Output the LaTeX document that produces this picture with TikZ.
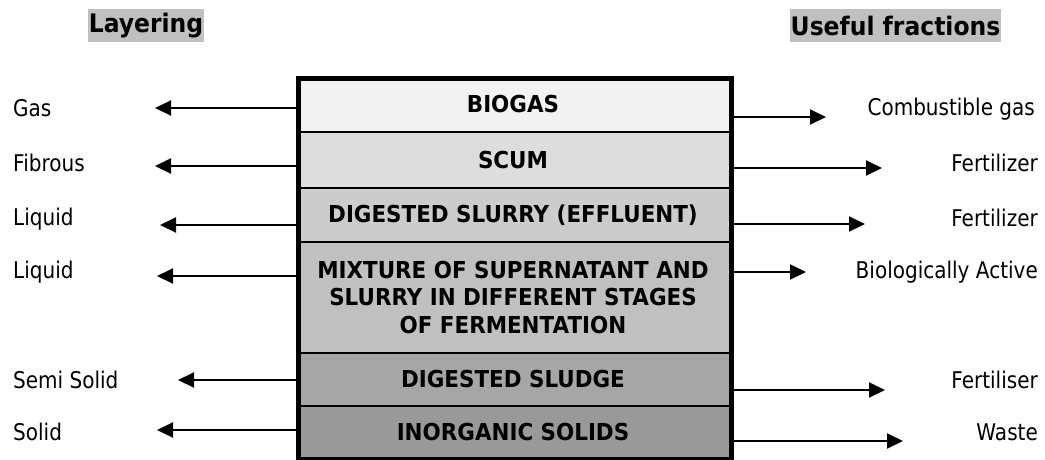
\documentclass[tikz,border=0pt]{standalone}
\usepackage{fontspec}
\setmainfont{DejaVu Sans}
\newfontfamily\regfont{DejaVu Sans}[FakeStretch=0.87]
\newfontfamily\boldfont{DejaVu Sans}[FakeStretch=0.92]
\usetikzlibrary{arrows.meta}
\definecolor{cBiogas}{HTML}{F2F2F2}
\definecolor{cScum}{HTML}{DDDDDD}
\definecolor{cSlurry}{HTML}{CCCCCC}
\definecolor{cMix}{HTML}{C0C0C0}
\definecolor{cSludge}{HTML}{A6A6A6}
\definecolor{cInorg}{HTML}{999999}
\definecolor{cHead}{HTML}{C0C0C0}
\tikzset{
  layer/.style={draw=black, line width=2pt, minimum width=433pt, inner sep=0pt, anchor=north west,
    align=center, font=\boldfont\bfseries\fontsize{23.3}{27.5}\selectfont},
  head/.style={fill=cHead, inner sep=0pt, font=\boldfont\bfseries\fontsize{25.5}{28}\selectfont},
  lbl/.style={inner sep=0pt, font=\regfont\fontsize{23}{26}\selectfont},
  arr/.style={line width=2pt, -{Triangle[length=16pt,width=15pt]}}
}
\begin{document}
\begin{tikzpicture}[x=1pt,y=-1pt]
\useasboundingbox (0,0) rectangle (1045,459);
% headers
\node[head, minimum width=116pt, minimum height=33pt] (hL) at (146,25.5) {Layering};
\node[head, minimum width=211pt, minimum height=33pt] (hR) at (895.5,25.5) {Useful fractions};
% layers
\node[layer, fill=cBiogas, minimum height=55pt] (biogas) at (295.5,76) {BIOGAS};
\node[layer, fill=cScum, minimum height=56pt] (scum) at (295.5,131) {SCUM};
\node[layer, fill=cSlurry, minimum height=54pt] (slurry) at (295.5,187) {DIGESTED SLURRY (EFFLUENT)};
\node[layer, fill=cMix, minimum height=111pt] (mix) at (295.5,241) {MIXTURE OF SUPERNATANT AND\\SLURRY IN DIFFERENT STAGES\\OF FERMENTATION};
\node[layer, fill=cSludge, minimum height=53pt] (sludge) at (295.5,352) {DIGESTED SLUDGE};
\node[layer, fill=cInorg, minimum height=51.5pt] (inorg) at (295.5,405) {INORGANIC SOLIDS};
% tank frame
\node[draw=black, line width=5pt, minimum width=433pt, minimum height=380.5pt, inner sep=0pt, anchor=north west] (tank) at (295.5,76) {};
% left labels
\node[lbl, anchor=base west] (lGas) at (13,116) {Gas};
\node[lbl, anchor=base west] (lFib) at (13,171) {Fibrous};
\node[lbl, anchor=base west] (lLiq1) at (13,225) {Liquid};
\node[lbl, anchor=base west] (lLiq2) at (13,278) {Liquid};
\node[lbl, anchor=base west] (lSemi) at (13,388) {Semi Solid};
\node[lbl, anchor=base west] (lSol) at (13,440) {Solid};
% right labels
\node[lbl, anchor=base east] (rGas) at (1035,115) {Combustible gas};
\node[lbl, anchor=base east] (rFert1) at (1038,171) {Fertilizer};
\node[lbl, anchor=base east] (rFert2) at (1038,226) {Fertilizer};
\node[lbl, anchor=base east] (rBio) at (1038,278) {Biologically Active};
\node[lbl, anchor=base east] (rFert3) at (1038,388) {Fertiliser};
\node[lbl, anchor=base east] (rWaste) at (1038,440) {Waste};
% arrow tips
\coordinate (tL1) at (155,108);
\coordinate (tL2) at (155,166);
\coordinate (tL3) at (160,225);
\coordinate (tL4) at (157,276);
\coordinate (tL5) at (178,380);
\coordinate (tL6) at (157,430);
\coordinate (tR1) at (826,117);
\coordinate (tR2) at (882,168);
\coordinate (tR3) at (865,224);
\coordinate (tR4) at (806,272);
\coordinate (tR5) at (885,390);
\coordinate (tR6) at (903,441);
% arrows
\draw[arr] (tank.west |- tL1) -- (tL1);
\draw[arr] (tank.west |- tL2) -- (tL2);
\draw[arr] (tank.west |- tL3) -- (tL3);
\draw[arr] (tank.west |- tL4) -- (tL4);
\draw[arr] (tank.west |- tL5) -- (tL5);
\draw[arr] (tank.west |- tL6) -- (tL6);
\draw[arr] (tank.east |- tR1) -- (tR1);
\draw[arr] (tank.east |- tR2) -- (tR2);
\draw[arr] (tank.east |- tR3) -- (tR3);
\draw[arr] (tank.east |- tR4) -- (tR4);
\draw[arr] (tank.east |- tR5) -- (tR5);
\draw[arr] (tank.east |- tR6) -- (tR6);
\end{tikzpicture}
\end{document}
